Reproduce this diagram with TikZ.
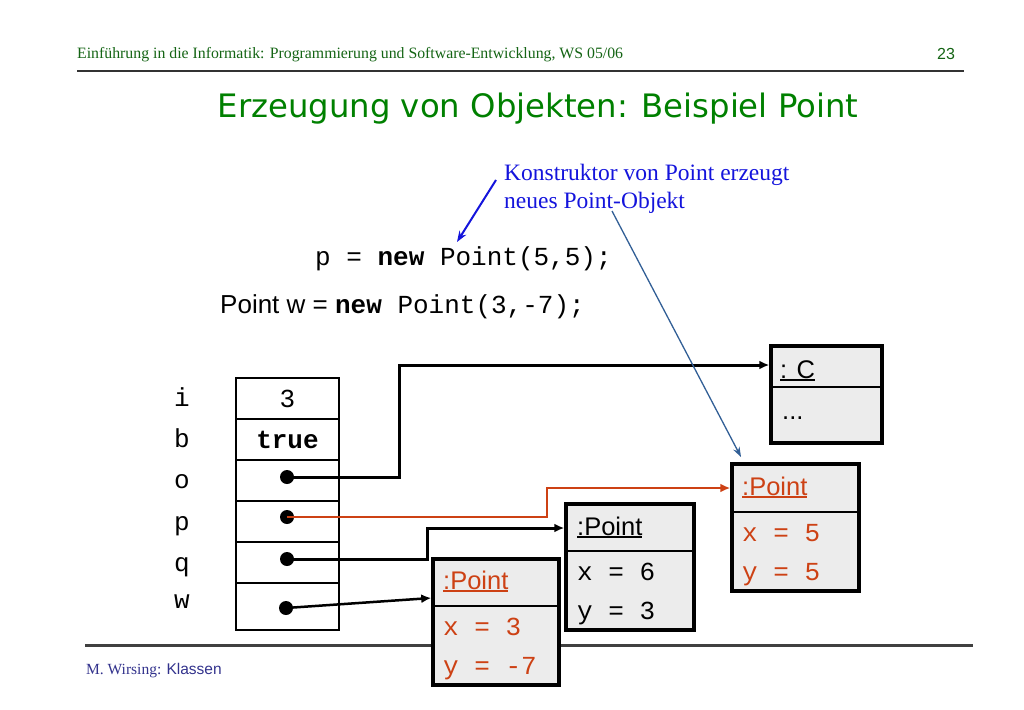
\documentclass[tikz,border=0pt]{standalone}
\usepackage{fontspec}
\setmainfont{Liberation Serif}
\setsansfont{Liberation Sans}
\setmonofont{Liberation Mono}
\newfontfamily\titlefont{DejaVu Sans}
\usepackage{xcolor}
\usetikzlibrary{positioning,calc,arrows.meta}

\definecolor{slidegreen}{RGB}{0,128,0}
\definecolor{headgreen}{RGB}{20,100,20}
\definecolor{noteblue}{RGB}{20,20,220}
\definecolor{steelblue}{RGB}{50,95,150}
\definecolor{objred}{RGB}{205,65,20}
\definecolor{footblue}{RGB}{50,50,140}
\definecolor{boxgray}{RGB}{236,236,236}

\tikzset{
    objbox/.style={draw, line width=3.5pt, fill=boxgray, inner sep=0pt},
    cell/.style={draw, line width=1.5pt, minimum width=103pt, inner sep=0pt},
    code/.style={font=\fontsize{26}{30}\selectfont\ttfamily, inner sep=0pt},
    objhead/.style={font=\fontsize{25.5}{30}\selectfont\sffamily, inner sep=0pt, anchor=base west},
    attr/.style={code, anchor=base west},
    ptrdot/.style={circle, fill=black, minimum size=14pt, inner sep=0pt},
    ptr/.style={line width=3pt, -{Latex[length=10pt,width=9pt]}},
}
% underline close to the baseline
\newcommand{\objname}[1]{\setbox0\hbox{#1}\rlap{\rule[-2.5pt]{\wd0}{1.3pt}}\box0}

\begin{document}
\begin{tikzpicture}[x=1pt,y=-1pt]
    \useasboundingbox (0,0) rectangle (1024,709);

    % Header
    \node[anchor=base west, text=headgreen, font=\fontsize{15.8}{18}\selectfont, inner sep=0pt] (head) at (77,59) {Einführung in die Informatik: Programmierung und Software-Entwicklung, WS 05/06};
    \node[text=headgreen, font=\fontsize{16}{18}\selectfont\sffamily, inner sep=0pt] (pagenum) at (946,54) {23};
    \draw[line width=2.5pt, black!80] (77,71) -- (964,71);
    \node[anchor=base, text=slidegreen, font=\fontsize{32.3}{36}\selectfont\titlefont, inner sep=0pt] (title) at (538,117) {Erzeugung von Objekten: Beispiel Point};

    % Note on the constructor
    \node[anchor=base west, text=noteblue, font=\fontsize{23.5}{28}\selectfont, inner sep=0pt] (note1) at (504,180) {Konstruktor von Point erzeugt};
    \node[anchor=base west, text=noteblue, font=\fontsize{23.5}{28}\selectfont, inner sep=0pt] (note2) at (504,208) {neues Point-Objekt};

    % Code
    \node[code, anchor=base west] (newP) at (315,265) {p = \textbf{new} Point(5,5);};
    \node[anchor=base west, inner sep=0pt, font=\fontsize{26}{30}\selectfont\sffamily] (newW) at (220,313) {Point w = \texttt{\textbf{new} Point(3,-7);}};

    % Footer
    \draw[line width=3pt, black!75] (85,645) -- (973,645);
    \node[anchor=base west, text=footblue, font=\fontsize{15.5}{18}\selectfont, inner sep=0pt] (foot) at (86,674) {M. Wirsing: \textsf{Klassen}};

    % Stack
    \node[cell, code, minimum height=41pt] (cellI) at (287.5,398.5) {3};
    \node[cell, code, minimum height=41pt] (cellB) at (287.5,439.5) {\textbf{true}};
    \node[cell, minimum height=41pt] (cellO) at (287.5,480.5) {};
    \node[cell, minimum height=41pt] (cellP) at (287.5,521.5) {};
    \node[cell, minimum height=41pt] (cellQ) at (287.5,562.5) {};
    \node[cell, minimum height=47pt] (cellW) at (287.5,606.5) {};
    \node[code, anchor=base] (varI) at (182,406) {i};
    \node[code, anchor=base] (varB) at (182,447) {b};
    \node[code, anchor=base] (varO) at (182,488) {o};
    \node[code, anchor=base] (varP) at (182,530) {p};
    \node[code, anchor=base] (varQ) at (182,571) {q};
    \node[code, anchor=base] (varW) at (182,608) {w};

    % Objects
    \node[objbox, minimum width=111pt, minimum height=97pt] (objC) at (826.5,394.5) {};
    \draw[line width=1.5pt] (771,387) -- (882,387);
    \node[objhead] (headC) at (780,378) {\objname{: C}};
    \node[objhead] (dotsC) at (782,419) {...};

    \node[objbox, minimum width=127pt, minimum height=127pt] (objP55) at (795.5,527.5) {};
    \draw[line width=1.5pt] (732,512) -- (859,512);
    \node[objhead, text=objred] (headP55) at (742,495) {\objname{:Point}};
    \node[attr, text=objred] (xP55) at (742,541) {x = 5};
    \node[attr, text=objred] (yP55) at (742,580) {y = 5};

    \node[objbox, minimum width=128pt, minimum height=126pt] (objP63) at (630,567) {};
    \draw[line width=1.5pt] (566,551) -- (694,551);
    \node[objhead] (headP63) at (577,535) {\objname{:Point}};
    \node[attr] (xP63) at (577,580) {x = 6};
    \node[attr] (yP63) at (577,619) {y = 3};

    \node[objbox, minimum width=126pt, minimum height=126pt] (objP37) at (496,622) {};
    \draw[line width=1.5pt] (433,606) -- (559,606);
    \node[objhead, text=objred] (headP37) at (443,589) {\objname{:Point}};
    \node[attr, text=objred] (xP37) at (443,635) {x = 3};
    \node[attr, text=objred] (yP37) at (443,674) {y = -7};

    % References
    \node[ptrdot] (dotO) at (287,477) {};
    \node[ptrdot] (dotP) at (287,517) {};
    \node[ptrdot] (dotQ) at (287,559) {};
    \node[ptrdot] (dotW) at (286,608) {};
    \coordinate (bendO) at (399,365);
    \coordinate (bendP) at (547,488);
    \coordinate (bendQ) at (427,528);
    \draw[ptr] (dotO.center) -| (bendO) -- (bendO -| objC.west);
    \draw[ptr, objred, line width=2.5pt] (dotP.center) -| (bendP) -- (bendP -| objP55.west);
    \draw[ptr] (dotQ.center) -| (bendQ) -- (bendQ -| objP63.west);
    \draw[ptr, line width=2.5pt] (dotW.center) -- ($(objP37.west)+(0,-24)$);

    % Note arrows
    \coordinate (noteTail) at (496,180);
    \coordinate (noteTip) at (457,242);
    \coordinate (objTail) at (612,211);
    \coordinate (objTip) at (741,457);
    \draw[noteblue, line width=2pt, -{Stealth[length=11pt,width=8pt]}] (noteTail) -- (noteTip);
    \draw[steelblue, line width=1.3pt, -{Stealth[length=10pt,width=7pt]}] (objTail) -- (objTip);
\end{tikzpicture}
\end{document}
